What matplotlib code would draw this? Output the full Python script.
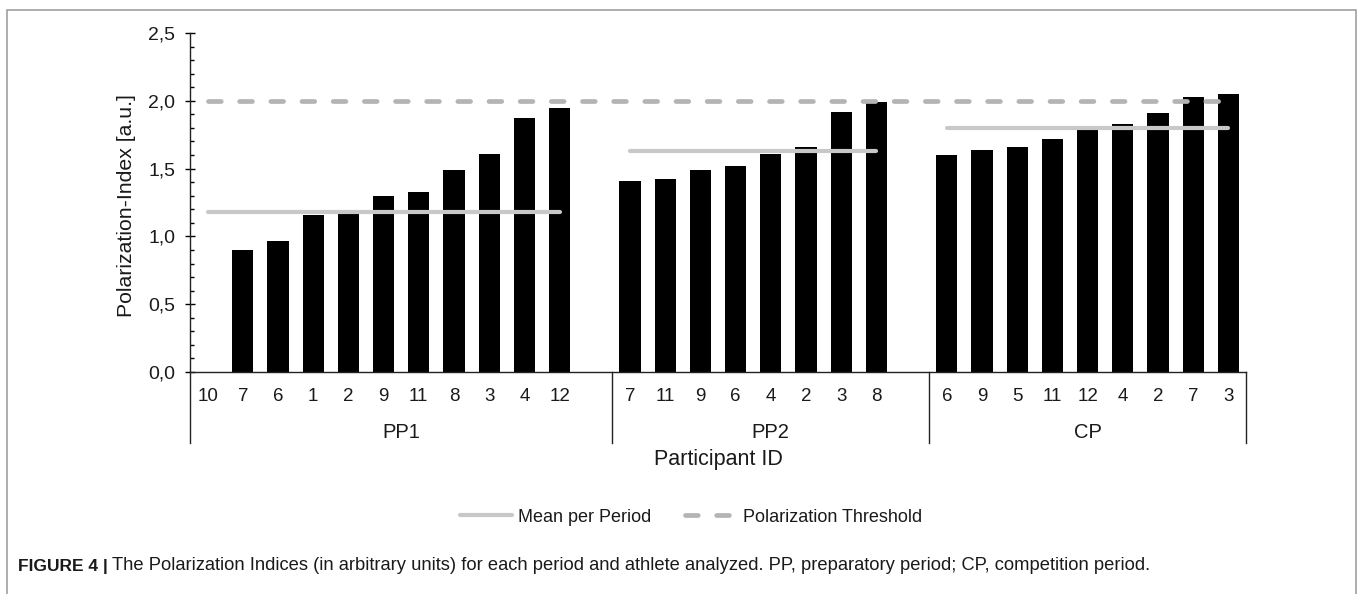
import matplotlib
matplotlib.use('Agg')
import matplotlib.pyplot as plt
import numpy as np
from matplotlib.patches import Rectangle
from matplotlib.lines import Line2D
import matplotlib.transforms as mtransforms
from matplotlib.ticker import MultipleLocator

plt.rcParams['font.family'] = ['Liberation Sans', 'DejaVu Sans']

# ---------------- data ----------------
periods = ['PP1', 'PP2', 'CP']
pp1_ids = ['10', '7', '6', '1', '2', '9', '11', '8', '3', '4', '12']
pp1_vals = [0.0, 0.90, 0.965, 1.16, 1.165, 1.30, 1.33, 1.49, 1.61, 1.87, 1.95]
pp2_ids = ['7', '11', '9', '6', '4', '2', '3', '8']
pp2_vals = [1.41, 1.42, 1.49, 1.52, 1.61, 1.66, 1.92, 1.99]
cp_ids = ['6', '9', '5', '11', '12', '4', '2', '7', '3']
cp_vals = [1.60, 1.64, 1.66, 1.715, 1.79, 1.83, 1.91, 2.03, 2.05]
period_means = [1.18, 1.63, 1.80]
threshold = 2.0
yticks = [0.0, 0.5, 1.0, 1.5, 2.0, 2.5]
ytick_labels = ['0,0', '0,5', '1,0', '1,5', '2,0', '2,5']
legend_labels = ['Mean per Period', 'Polarization Threshold']

# layout: category slots per period on the axis
group_slots = [12, 9, 9]

W, H = 1360, 594
fig = plt.figure(figsize=(W / 100, H / 100), dpi=100)
ax = fig.add_axes([190 / W, (H - 372) / H, (1246 - 190) / W, (372 - 33) / H])

mean_color = '#c8c8c8'
thr_color = '#b4b4b4'
text_color = '#1a1a1a'
dash = (0, (2.7, 3.9))

ids_all = [pp1_ids, pp2_ids, cp_ids]
vals_all = [pp1_vals, pp2_vals, cp_vals]
starts = np.concatenate([[0], np.cumsum(group_slots)])
xt, xl = [], []
first_x, last_x = None, None
for g, (ids, vals) in enumerate(zip(ids_all, vals_all)):
    x = starts[g] + 0.5 + np.arange(len(ids))
    ax.bar(x, vals, width=0.6, color='black', zorder=2)
    ax.plot([x[0], x[-1]], [period_means[g]] * 2, color=mean_color, lw=3.0,
            solid_capstyle='round', zorder=3)
    xt.extend(x)
    xl.extend(ids)
    if first_x is None:
        first_x = x[0]
    last_x = x[-1]

ax.plot([first_x, last_x], [threshold] * 2, color=thr_color, lw=3.4,
        linestyle=dash, dash_capstyle='round', zorder=4)

ax.set_xlim(0, starts[-1])
ax.set_ylim(0, 2.5)
ax.set_yticks(yticks)
ax.set_yticklabels(ytick_labels, fontsize=14, color=text_color)
ax.yaxis.set_minor_locator(MultipleLocator(0.1))
ax.tick_params(axis='y', which='major', direction='inout', length=7, width=1, pad=7)
ax.tick_params(axis='y', which='minor', direction='in', length=3, width=1)
ax.set_xticks(xt)
ax.set_xticklabels(xl, fontsize=13.5, color=text_color)
ax.tick_params(axis='x', length=0, pad=11.5)
for s in ['top', 'right']:
    ax.spines[s].set_visible(False)
for s in ['left', 'bottom']:
    ax.spines[s].set_linewidth(1.0)
    ax.spines[s].set_color('#222222')

trans = mtransforms.blended_transform_factory(ax.transData, ax.transAxes)
sep_bottom = -(443 - 372) / (372 - 33)
for b in starts:
    ax.plot([b, b], [0, sep_bottom], transform=trans, color='#222222', lw=1.0,
            clip_on=False)
for g, p in enumerate(periods):
    c = (starts[g] + starts[g + 1]) / 2
    ax.text(c, -(432 - 372) / (372 - 33), p, transform=trans, ha='center',
            va='center', fontsize=14.5, color=text_color)

fig.text(718 / W, 1 - 460 / H, 'Participant ID', ha='center', va='center',
         fontsize=15.5, color=text_color)
fig.text(127 / W, 1 - 206 / H, 'Polarization-Index [a.u.]', ha='center',
         va='center', rotation=90, fontsize=15.3, color=text_color)

handles = [Line2D([], [], color=mean_color, lw=3.0, solid_capstyle='round'),
           Line2D([], [], color=thr_color, lw=3.4, linestyle=dash,
                  dash_capstyle='round')]
fig.legend(handles, legend_labels, loc='center', bbox_to_anchor=(691 / W, 1 - 517 / H),
           ncol=2, frameon=False, fontsize=13, handlelength=2.9,
           handletextpad=0.3, columnspacing=1.9, labelcolor=text_color)

# caption
t1 = fig.text(18 / W, 1 - 566 / H, 'FIGURE 4 |', fontsize=12.5, weight='bold',
              va='center', ha='left', color=text_color)
fig.canvas.draw()
bb = t1.get_window_extent(renderer=fig.canvas.get_renderer())
fig.text(bb.x1 / W + 4 / W, 1 - 566 / H,
         'The Polarization Indices (in arbitrary units) for each period and athlete analyzed. '
         'PP, preparatory period; CP, competition period.',
         fontsize=13.2, va='center', ha='left', color=text_color)

fig.add_artist(Rectangle((7 / W, -0.05), (1356 - 7) / W, 1.05 - 10 / H,
                         transform=fig.transFigure, fill=False,
                         edgecolor='#a0a0a0', lw=1.2))

fig.savefig('out.png', dpi=100)
